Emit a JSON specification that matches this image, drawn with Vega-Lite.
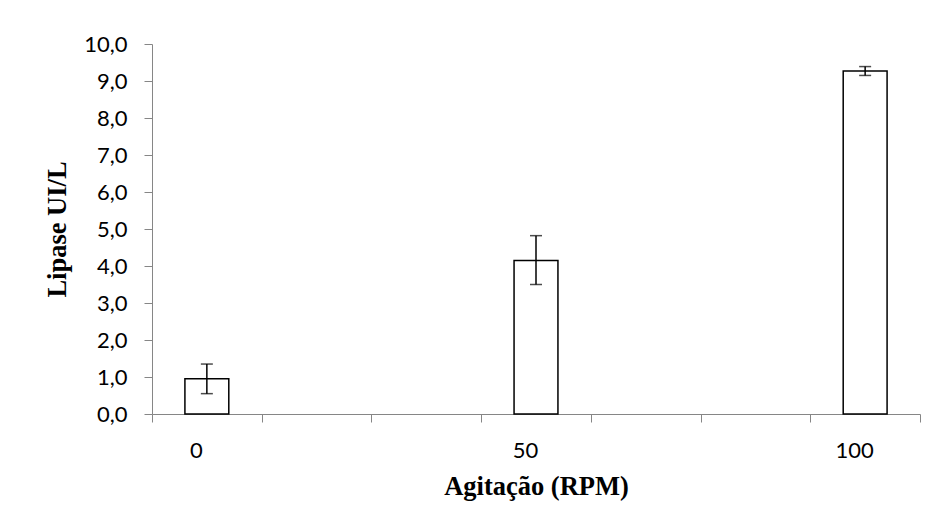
{
  "$schema": "https://vega.github.io/schema/vega-lite/v6.json",
  "autosize": {"type": "none"},
  "padding": {"left": 152, "top": 44, "right": 15, "bottom": 115},
  "width": 768,
  "height": 370,
  "background": "white",
  "config": {"view": {"stroke": null}},
  "data": {"values": [
    {"rpm": "0", "lipase": 0.95, "lo": 0.55, "hi": 1.35},
    {"rpm": "50", "lipase": 4.15, "lo": 3.5, "hi": 4.82},
    {"rpm": "100", "lipase": 9.27, "lo": 9.15, "hi": 9.39}
  ]},
  "resolve": {"axis": {"y": "independent"}},
  "encoding": {
    "x": {
      "field": "rpm", "type": "nominal", "sort": null,
      "scale": {"domain": ["0", "a", "b", "50", "c", "d", "100"], "paddingInner": 0, "paddingOuter": 0},
      "axis": {
        "title": "Agitação (RPM)",
        "titleFont": "Liberation Serif", "titleFontWeight": "bold", "titleFontSize": 26.5, "titleColor": "#000000",
        "titlePadding": 12,
        "labelExpr": "(datum.value == '0' || datum.value == '50' || datum.value == '100') ? datum.value : ''",
        "labelAngle": 0, "labelFont": "Lato", "labelFontSize": 22, "labelColor": "#000000",
        "labelOffset": -11, "labelPadding": 18, "labelOverlap": false,
        "tickBand": "extent", "tickSize": 8, "tickColor": "#868686",
        "domainColor": "#868686", "grid": false
      }
    }
  },
  "layer": [
    {
      "mark": {"type": "bar", "fill": "white", "stroke": "#000000", "strokeWidth": 1.5, "width": {"band": 0.4}},
      "encoding": {
        "y": {
          "field": "lipase", "type": "quantitative",
          "scale": {"domain": [0, 10], "nice": false},
          "axis": {
            "title": "Lipase UI/L",
            "titleFont": "Liberation Serif", "titleFontWeight": "bold", "titleFontSize": 26.5, "titleColor": "#000000",
            "titlePadding": 12,
            "values": [0, 1, 2, 3, 4, 5, 6, 7, 8, 9, 10],
            "labelExpr": "replace(format(datum.value, '.1f'), '.', ',')",
            "labelFont": "Lato", "labelFontSize": 22, "labelColor": "#000000", "labelPadding": 17,
            "labelOverlap": false,
            "tickSize": 8, "tickColor": "#868686", "domainColor": "#868686", "grid": false
          }
        }
      }
    },
    {
      "mark": {"type": "rule", "color": "#000000", "strokeWidth": 1.5},
      "encoding": {
        "y": {"field": "lo", "type": "quantitative", "axis": null},
        "y2": {"field": "hi"}
      }
    },
    {
      "mark": {"type": "tick", "color": "#000000", "thickness": 1.5, "size": 12},
      "encoding": {"y": {"field": "hi", "type": "quantitative", "axis": null}}
    },
    {
      "mark": {"type": "tick", "color": "#000000", "thickness": 1.5, "size": 12},
      "encoding": {"y": {"field": "lo", "type": "quantitative", "axis": null}}
    }
  ]
}
